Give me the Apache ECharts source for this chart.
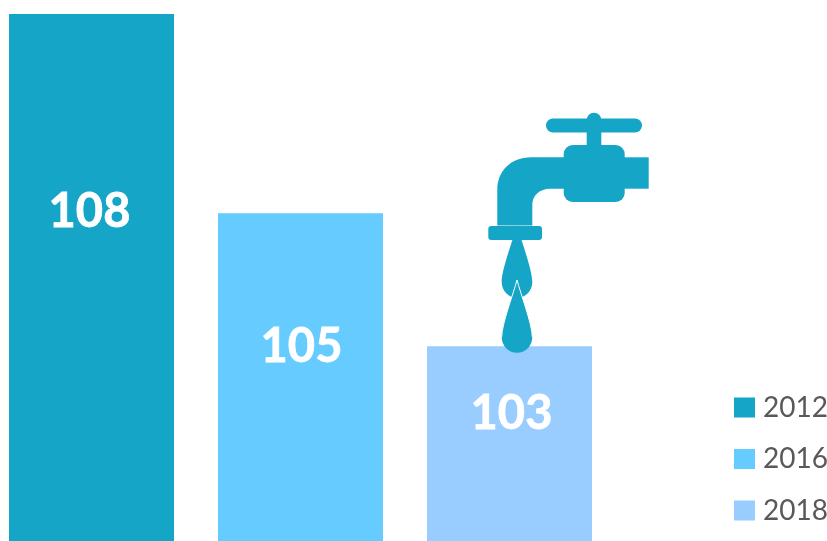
<!DOCTYPE html>
<html>
<head>
<meta charset="utf-8">
<style>html,body{margin:0;padding:0;background:#fff}#c{width:827px;height:541px}</style>
<script src="https://cdn.jsdelivr.net/npm/echarts@6/dist/echarts.min.js"></script>
</head>
<body>
<div id="c"></div>
<script>
const years = ['2012', '2016', '2018'];
const values2012 = [108, '-', '-'];
const values2016 = ['-', 105, '-'];
const values2018 = ['-', '-', 103];
const colors = ['#15A5C7', '#66CCFF', '#99CCFF'];
const labelOffsets = [[-2, -66], [1, -30], [2, -30]];
const faucetColor = '#15A5C7';

const chart = echarts.init(document.getElementById('c'), null, {renderer: 'canvas'});
const mk = (name, data, i) => ({
  name, type: 'bar', data, barWidth: 165, barGap: '-100%',
  itemStyle: {color: colors[i]},
  label: {show: true, position: 'inside', offset: labelOffsets[i], color: '#fff',
    fontFamily: 'Lato', fontWeight: 'bold', fontSize: 47, textBorderColor: '#fff', textBorderWidth: 0.8}
});
const faucet = (shape) => ({type: 'rect', z: 10, shape, style: {fill: faucetColor}, silent: true});
let pathCount = 0;
const pathEl = (d, style) => {
  const name = 'faucetPath' + (pathCount++);
  echarts.graphic.registerShape(name, echarts.graphic.extendPath(d, {}));
  return {type: name, z: 10, shape: {}, style, silent: true};
};

chart.setOption({
  animation: false,
  backgroundColor: '#fff',
  grid: {left: -13, width: 627, top: 14, bottom: 0, outerBoundsMode: 'none'},
  xAxis: {type: 'category', data: years, show: false},
  yAxis: {type: 'value', min: 100.07, max: 108, show: false},
  legend: {
    orient: 'vertical', left: 734, top: 393.5, padding: 0, itemWidth: 21, itemHeight: 20, itemGap: 23.5,
    icon: 'rect', data: years, selectedMode: false,
    textStyle: {color: '#595959', fontFamily: 'Lato', fontSize: 28, padding: [0, 0, 0, 3]}
  },
  series: [mk('2012', values2012, 0), mk('2016', values2016, 1), mk('2018', values2018, 2)],
  graphic: {elements: [
    faucet({x: 546, y: 118.5, width: 96, height: 14, r: 7}),
    {type: 'circle', z: 10, shape: {cx: 594, cy: 120, r: 7.3}, style: {fill: faucetColor}, silent: true},
    faucet({x: 586.7, y: 120, width: 14.6, height: 30}),
    faucet({x: 563.7, y: 145, width: 61, height: 57, r: 9}),
    faucet({x: 620, y: 157.3, width: 28.7, height: 31.4}),
    pathEl('M570 157.3 L531 157.3 C511 157.3 497.3 171 497.3 190 L497.3 225.5 L532.3 225.5 L532.3 205 C532.3 195 540 188.7 550 188.7 L570 188.7 Z', {fill: faucetColor}),
    pathEl('M517 225 C520 237 532.3 269 532.3 282 A15.3 15.8 0 0 1 501.7 282 C501.7 269 514 237 517 225 Z', {fill: faucetColor}),
    faucet({x: 488.3, y: 226, width: 53.7, height: 14, r: 3}),
    pathEl('M517 280 C520 292 532.3 324 532.3 337 A15.3 15.8 0 0 1 501.7 337 C501.7 324 514 292 517 280 Z', {fill: faucetColor}),
    pathEl('M532.3 337 C532.3 324 520 292 517 280 C514 292 501.7 324 501.7 337', {fill: 'none', stroke: '#fff', lineWidth: 1})
  ]}
});
</script>
</body>
</html>
